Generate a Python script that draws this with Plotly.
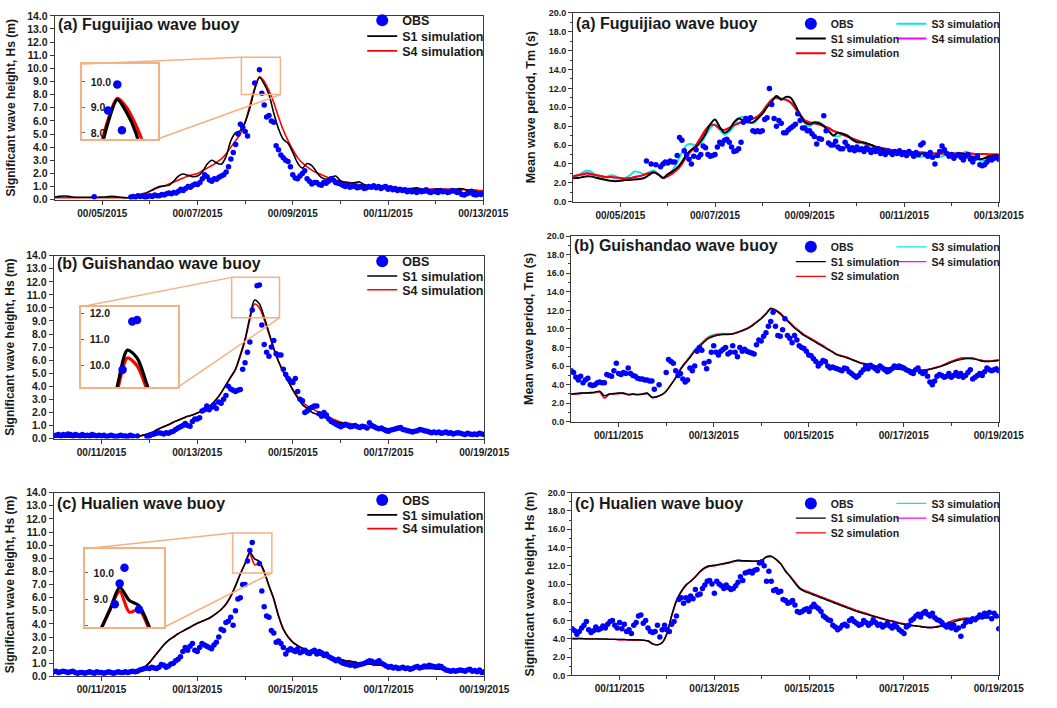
import numpy as np
import plotly.graph_objects as go

W, H = 1057, 708
FONT = "Arial, Liberation Sans, sans-serif"
AX = "#3a3a3a"
TXT = "#1a1a1a"
C_OBS = "#0000ff"
C_S1 = "#000000"
C_S2 = "#ff0000"
C_S3 = "#00e8f0"
C_S4 = "#ff00ff"
C_BOX = "#f4b183"

# ---------------- tick labels ----------------
TICKVALS_A = [5, 7, 9, 11, 13]
TICKTEXT_A = ["00/05/2015", "00/07/2015", "00/09/2015", "00/11/2015", "00/13/2015"]
MINOR_A = [6, 8, 10, 12]
TICKVALS_B = [11, 13, 15, 17, 19]
TICKTEXT_B = ["00/11/2015", "00/13/2015", "00/15/2015", "00/17/2015", "00/19/2015"]
MINOR_B = [12, 14, 16, 18]

SIM_STEP = 0.1     # simulation series sampling (day units)
OBS_STEP = 0.05    # observation sampling (day units)

# ================= (a) Fuguijiao, Hs =================
HS_A_OBS_EARLY_T = [4.83]
HS_A_OBS_EARLY = [0.22]
HS_A_OBS_START = 5.6
HS_A_OBS = [
    0.2, 0.25, 0.2, 0.3, 0.25, 0.3, 0.2, 0.25,
    0.3, 0.25, 0.35, 0.3, 0.3, 0.4, 0.35, 0.45, 0.5, 0.45,
    0.55, 0.5, 0.65, 0.8, 0.7, 0.85, 1.0, 0.95, 1.1, 1.2,
    1.15, 1.3, 1.6, 1.9, 1.75, 1.5, 1.4, 1.6, 1.55, 1.7,
    1.8, 1.9, 2.1, 2.5, 3.1, 3.6, 4.2, 5.0, 5.75, 5.5,
    5.2, 4.85, None, None, 8.88, None, 9.9, 8.1, 7.2, 6.3,
    6.4, 6.0, 5.9, 4.1, 3.8, 3.4, 3.2, 3.0, 2.9, 2.5,
    1.9, 1.65, 1.6, 1.8, 2.0, 2.2, 1.6, 1.4, 1.2, 1.3,
    1.3, 1.15, 1.1, 1.3, 1.25, 1.4, 1.6, 1.5, 1.3, 1.25,
    1.2, 1.1, 1.0, 1.1, 0.95, 1.0, 1.05, 0.9, 0.95, 1.0,
    0.85, 0.9, 1.0, 0.95, 1.05, 0.9, 1.0, 0.85, 0.95, 1.0,
    0.8, 0.9, 0.75, 0.85, 0.7, 0.8, 0.7, 0.75, 0.6, 0.7,
    0.6, 0.65, 0.55, 0.7, 0.6, 0.65, 0.75, 0.6, 0.55, 0.65,
    0.6, 0.55, 0.7, 0.6, 0.65, 0.55, 0.6, 0.7, 0.65, 0.55,
    0.6, 0.4, 0.35, 0.45, 0.5, 0.65, 0.4, 0.35, 0.45, 0.4,
    0.5]
HS_A_SIM_START = 4.0
HS_A_S1 = [
    0.2, 0.25, 0.28, 0.25, 0.2, 0.18, 0.18, 0.18, 0.18, 0.18,
    0.2, 0.22, 0.25, 0.22, 0.18, 0.15, 0.15, 0.2, 0.3, 0.45,
    0.65, 0.85, 1.0, 1.05, 1.1, 1.4, 1.8, 1.95, 1.85, 1.75,
    1.8, 2.1, 2.7, 3.0, 2.8, 2.7, 3.3, 4.5, 5.1, 5.25,
    5.9, 7.0, 8.4, 9.3, 8.8, 8.0, 6.6, 5.4, 4.6, 4.3,
    3.6, 2.8, 2.4, 2.75, 2.6, 2.1, 1.7, 1.55, 1.7, 1.8,
    1.45, 1.3, 1.25, 1.3, 1.35, 1.15, 1.05, 1.0, 1.0, 1.05,
    1.0, 0.95, 0.85, 0.8, 0.75, 0.85, 0.9, 0.8, 0.75, 0.7,
    0.8, 0.8, 0.7, 0.7, 0.75, 0.85, 0.8, 0.7, 0.65, 0.6,
    0.6]
HS_A_S4 = [
    0.15, 0.15, 0.15, 0.15, 0.15, 0.15, 0.15, 0.15, 0.15, 0.15,
    0.15, 0.15, 0.15, 0.15, 0.15, 0.15, 0.2, 0.3, 0.4, 0.5,
    0.65, 0.8, 0.95, 1.05, 1.2, 1.35, 1.5, 1.65, 1.8, 1.9,
    2.0, 2.2, 2.4, 2.6, 2.85, 3.1, 3.5, 4.0, 4.5, 5.0,
    5.9, 7.2, 8.5, 9.35, 9.0, 8.3, 7.4, 6.3, 5.3, 4.5,
    3.8, 3.2, 2.8, 2.5, 2.25, 2.05, 1.9, 1.75, 1.6, 1.5,
    1.4, 1.35, 1.3, 1.2, 1.15, 1.1, 1.05, 1.0, 1.0, 0.95,
    0.95, 0.9, 0.9, 0.85, 0.85, 0.85, 0.8, 0.8, 0.8, 0.8,
    0.8, 0.8, 0.8, 0.8, 0.8, 0.8, 0.75, 0.75, 0.75, 0.7,
    0.7]

# ================= (b) Guishandao, Hs =================
HS_B_OBS_START = 10.0
HS_B_OBS = [
    0.2, 0.25, 0.3, 0.2, 0.3, 0.25, 0.35, 0.3, 0.2, 0.3,
    0.25, 0.2, 0.3, 0.2, 0.25, 0.2, 0.3, 0.25, 0.2, 0.25,
    0.2, 0.25, 0.15, 0.2, 0.25, 0.2, 0.15, 0.2, 0.25, 0.2,
    0.2, 0.15, 0.25, 0.2, None, 0.2, None, None, None, 0.15,
    0.2, 0.3, 0.35, 0.4, 0.45, 0.4, 0.35, 0.45, 0.4, 0.5,
    0.55, 0.7, 0.8, 0.9, 1.0, 1.15, 1.0, 0.95, 1.3, 1.5,
    1.5, 1.6, 2.1, 2.2, 2.5, 2.2, 2.4, 2.6, 2.3, 2.8,
    2.7, 3.0, 3.3, 4.0, 3.8, 3.7, 3.6, 3.7, 3.75, 5.3,
    5.8, 6.6, 7.4, 9.85, None, 11.7, 11.75, 8.7, 7.2, 6.6,
    6.3, 7.0, 7.5, 6.5, 6.4, 6.4, 5.3, 4.9, 4.6, 4.4,
    4.3, 4.6, 3.6, 3.0, 2.9, 2.0, 2.1, 2.3, 2.4, 2.5,
    2.5, 1.9, 1.7, 2.0, 1.8, 1.5, 1.3, 1.2, 1.1, 1.0,
    0.9, 1.0, 1.1, 1.0, 0.9, 0.95, 1.0, 0.9, 0.85, 0.95,
    0.9, 0.8, 1.2, 1.0, 0.9, 0.8, 0.75, 0.8, 0.7, 0.6,
    0.55, 0.65, 0.7, 0.75, 0.8, 0.85, 0.7, 0.65, 0.6, 0.55,
    0.5, 0.55, 0.6, 0.7, 0.65, 0.6, 0.55, 0.5, 0.45, 0.5,
    0.45, 0.5, 0.4, 0.45, 0.5, 0.4, 0.45, 0.35, 0.4, 0.45,
    0.4, 0.35, 0.3, 0.4, 0.35, 0.3, 0.35, 0.3, 0.4, 0.35,
    0.3]
HS_B_SIM_START = 10.0
HS_B_S1 = [
    0.12, 0.12, 0.12, 0.12, 0.12, 0.12, 0.12, 0.12, 0.12, 0.12,
    0.12, 0.12, 0.12, 0.12, 0.12, 0.12, 0.12, 0.15, 0.2, 0.28,
    0.4, 0.55, 0.75, 0.9, 1.05, 1.25, 1.4, 1.55, 1.7, 1.8,
    1.95, 2.1, 2.3, 2.6, 3.0, 3.5, 4.1, 4.7, 5.3, 6.4,
    7.6, 9.3, 10.6, 10.3, 9.3, 8.1, 6.9, 5.9, 5.1, 4.4,
    3.7, 3.1, 2.6, 2.3, 2.0, 1.85, 1.7, 1.55, 1.4, 1.3,
    1.2, 1.1, 1.05, 1.0, 0.95, 0.9, 0.85, 0.85, 0.8, 0.8,
    0.75, 0.72, 0.7, 0.7, 0.68, 0.65, 0.65, 0.62, 0.6, 0.58,
    0.55, 0.52, 0.5, 0.48, 0.45, 0.43, 0.42, 0.4, 0.38, 0.37,
    0.35]
HS_B_S4 = [
    0.12, 0.12, 0.12, 0.12, 0.12, 0.12, 0.12, 0.12, 0.12, 0.12,
    0.12, 0.12, 0.12, 0.12, 0.12, 0.12, 0.12, 0.15, 0.2, 0.28,
    0.4, 0.55, 0.75, 0.9, 1.05, 1.25, 1.4, 1.55, 1.7, 1.8,
    1.95, 2.1, 2.3, 2.6, 3.0, 3.5, 4.1, 4.7, 5.3, 6.3,
    7.5, 9.1, 10.3, 10.0, 9.1, 8.0, 6.9, 5.9, 5.1, 4.4,
    3.75, 3.2, 2.75, 2.5, 2.3, 2.1, 1.95, 1.75, 1.55, 1.4,
    1.25, 1.2, 1.15, 1.05, 0.95, 0.9, 0.85, 0.85, 0.8, 0.8,
    0.75, 0.72, 0.7, 0.7, 0.68, 0.65, 0.65, 0.62, 0.6, 0.58,
    0.55, 0.52, 0.5, 0.48, 0.45, 0.43, 0.42, 0.4, 0.38, 0.37,
    0.35]

# ================= (c) Hualien, Hs =================
HS_C_OBS_START = 10.0
HS_C_OBS = [
    0.35, 0.4, 0.3, 0.35, 0.4, 0.35, 0.3, 0.35, 0.4, 0.3,
    0.25, 0.3, 0.3, 0.25, 0.3, 0.35, 0.3, 0.25, 0.35, 0.3,
    0.3, 0.25, 0.3, 0.35, 0.3, 0.25, 0.3, 0.35, 0.3, 0.3,
    0.35, 0.3, 0.35, 0.4, 0.35, 0.4, 0.5, 0.55, 0.6, 0.65,
    0.6, 0.7, 0.65, 0.6, 0.7, 0.9, 0.85, 0.7, 0.8, 0.95,
    1.0, 1.2, 1.3, 1.5, 1.9, 2.2, 2.0, 2.3, 2.5, 2.0,
    1.9, 2.2, 2.5, 2.4, 2.3, 2.2, 2.1, 2.4, 2.6, 3.0,
    3.6, 3.5, 4.1, 4.2, 4.5, 3.9, 5.0, 5.9, 6.0, 7.0,
    7.0, 8.8, 9.6, 10.2, None, None, 8.6, 6.5, 5.3, 4.6,
    4.5, 3.5, 3.3, 2.6, 2.7, 2.5, 2.2, 1.7, 2.0, 2.1,
    2.0, 1.9, 2.1, 1.8, 1.9, 2.0, 1.8, 1.75, 1.9, 2.0,
    1.7, 1.9, 1.8, 1.6, 1.7, 1.5, 1.4, 1.3, 1.2, 1.3,
    1.1, 1.0, 0.95, 0.9, 0.85, 0.9, 0.8, 0.85, 0.9, 0.95,
    1.0, 1.1, 1.2, 1.15, 1.0, 1.1, 1.2, 1.0, 0.9, 0.8,
    0.7, 0.75, 0.65, 0.7, 0.6, 0.65, 0.7, 0.6, 0.65, 0.55,
    0.6, 0.7, 0.75, 0.65, 0.7, 0.8, 0.75, 0.85, 0.8, 0.75,
    0.7, 0.8, 0.75, 0.6, 0.5, 0.45, 0.4, 0.45, 0.4, 0.45,
    0.5, 0.45, 0.4, 0.5, 0.55, 0.4, 0.45, 0.35, 0.5, 0.3,
    0.35]
HS_C_SIM_START = 10.0
HS_C_S1 = [
    0.35, 0.35, 0.35, 0.35, 0.35, 0.35, 0.35, 0.35, 0.35, 0.35,
    0.35, 0.35, 0.33, 0.33, 0.33, 0.33, 0.33, 0.35, 0.5, 0.7,
    1.05, 1.5, 1.95, 2.4, 2.75, 3.0, 3.25, 3.45, 3.65, 3.85,
    4.05, 4.2, 4.35, 4.55, 4.8, 5.1, 5.5, 6.1, 6.9, 7.8,
    8.6, 9.45, 8.95, 8.75, 8.0, 6.9, 5.9, 4.6, 3.6, 3.0,
    2.6, 2.35, 2.15, 2.0, 1.85, 1.75, 1.6, 1.5, 1.4, 1.35,
    1.3, 1.2, 1.15, 1.1, 1.0, 0.95, 0.95, 0.9, 0.85, 0.85,
    0.8, 0.78, 0.75, 0.72, 0.7, 0.68, 0.65, 0.62, 0.6, 0.6,
    0.58, 0.55, 0.52, 0.5, 0.48, 0.45, 0.43, 0.4, 0.38, 0.36,
    0.35]
HS_C_S4 = [
    0.35, 0.35, 0.35, 0.35, 0.35, 0.35, 0.35, 0.35, 0.35, 0.35,
    0.35, 0.35, 0.33, 0.33, 0.33, 0.33, 0.33, 0.35, 0.5, 0.7,
    1.05, 1.5, 1.95, 2.4, 2.75, 3.0, 3.25, 3.45, 3.65, 3.85,
    4.05, 4.2, 4.35, 4.55, 4.8, 5.1, 5.5, 6.1, 6.9, 7.8,
    8.6, 9.3, 8.5, 8.6, 7.9, 6.9, 5.9, 4.6, 3.6, 3.0,
    2.6, 2.35, 2.15, 2.0, 1.85, 1.75, 1.6, 1.5, 1.4, 1.35,
    1.3, 1.2, 1.15, 1.1, 1.0, 0.95, 0.95, 0.9, 0.85, 0.85,
    0.8, 0.78, 0.75, 0.72, 0.7, 0.68, 0.65, 0.62, 0.6, 0.6,
    0.58, 0.55, 0.52, 0.5, 0.48, 0.45, 0.43, 0.4, 0.38, 0.36,
    0.35]

# ================= (a) Fuguijiao, Tm =================
TM_A_OBS_START = 5.55
TM_A_OBS = [
    4.3, None, 4.0, None, 3.9, None, 3.7, 4.0, 4.2,
    4.1, 4.3, 4.2, 4.2, 4.9, 6.8, 6.5, 5.4, 5.0, 4.5,
    4.0, 4.8, 5.5, 4.7, 5.0, 5.9, 5.7, 5.0, 4.8, 4.9,
    5.0, 5.8, 6.3, 6.1, 6.5, 6.6, 6.3, 5.8, 5.3, 5.4,
    5.6, 6.3, 8.4, 8.8, 8.6, 8.9, 7.5, 7.4, 7.5, 7.4,
    7.5, 8.7, 8.9, 12.0, 10.3, 8.8, 8.0, 8.6, 8.3, 7.3,
    7.3, 7.6, 7.8, 8.0, 8.2, 9.3, 8.6, 7.8, 7.8, 7.5,
    7.5, 7.2, 6.9, 6.1, 6.7, 6.6, 9.1, 7.5, 6.2, 6.0,
    6.0, 6.4, 5.8, 5.6, 5.6, 6.3, 5.9, 5.5, 5.7, 5.4,
    5.8, 5.5, 5.6, 5.3, 5.7, 5.5, 5.2, 5.5, 5.3, 5.6,
    5.1, 5.3, 5.0, 5.4, 5.2, 5.0, 5.3, 5.1, 5.4, 5.0,
    5.2, 4.9, 5.3, 5.1, 4.8, 5.2, 5.0, 6.0, 6.2, 5.0,
    4.8, 5.2, 4.7, 4.0, 4.9, 5.3, 5.9, 5.5, 5.1, 4.8,
    5.0, 4.6, 4.9, 5.0, 4.7, 4.4, 4.8, 5.0, 4.5, 4.2,
    4.6, 4.8, 3.9, 3.8, 3.9, 4.2, 4.5, 4.4, 4.6, 4.7,
    4.5]
TM_A_SIM_START = 4.0
TM_A_S1 = [
    2.5, 2.5, 2.6, 2.7, 2.65, 2.5, 2.4, 2.3, 2.2, 2.15,
    2.2, 2.3, 2.3, 2.35, 2.4, 2.5, 2.8, 3.1, 2.9, 2.5,
    2.9, 3.2, 3.6, 4.2, 5.0, 5.5, 5.8, 6.4, 7.2, 8.2,
    8.7, 7.9, 7.3, 7.6, 8.4, 8.8, 8.6, 8.4, 8.4, 8.8,
    9.3, 10.0, 10.6, 11.2, 10.8, 11.1, 11.0, 10.2, 9.2, 8.4,
    8.2, 8.4, 8.3, 8.0, 7.5, 7.0, 7.3, 7.2, 7.0, 6.6,
    6.3, 6.3, 6.2, 6.0, 5.8, 5.6, 5.5, 5.4, 5.3, 5.3,
    5.3, 5.1, 4.9, 5.0, 5.1, 4.9, 4.7, 4.9, 5.3, 5.2,
    4.9, 5.0, 5.1, 5.0, 4.8, 4.6, 4.5, 4.6, 4.8, 4.9,
    4.9]
TM_A_S2 = [
    2.7, 2.8, 2.9, 3.0, 2.9, 2.8, 2.7, 2.6, 2.6, 2.55,
    2.5, 2.45, 2.5, 2.6, 2.7, 2.85, 3.0, 3.1, 2.9, 2.5,
    2.7, 3.0, 3.4, 4.0, 4.8, 5.4, 6.0, 6.8, 7.6, 8.1,
    8.1, 7.7, 7.6, 7.8, 8.1, 8.3, 8.5, 8.6, 8.8, 9.0,
    9.5, 10.2, 10.8, 11.0, 10.9, 10.8, 10.5, 9.9, 9.2, 8.6,
    8.4, 8.3, 8.2, 8.0, 7.8, 7.5, 7.3, 7.1, 6.9, 6.7,
    6.5, 6.3, 6.1, 6.0, 5.8, 5.7, 5.6, 5.5, 5.4, 5.3,
    5.3, 5.25, 5.2, 5.2, 5.2, 5.15, 5.1, 5.1, 5.1, 5.1,
    5.1, 5.1, 5.1, 5.1, 5.1, 5.05, 5.05, 5.05, 5.0, 5.0,
    5.0]
TM_A_S3 = [
    2.4, 2.7, 3.1, 3.3, 3.1, 2.7, 2.5, 2.6, 2.8, 2.7,
    2.4, 2.5, 2.8, 3.2, 3.1, 2.9, 3.1, 3.3, 2.9, 2.5,
    2.8, 3.3, 4.2, 5.2, 6.0, 6.1, 5.9, 6.2, 7.0, 7.8,
    8.2, 7.6, 7.1, 7.4, 8.0, 8.8, 9.0, 8.6, 8.3, 8.7,
    9.5, 10.2, 10.8, 11.2, 10.9, 10.8, 10.5, 9.8, 9.0, 8.3,
    8.0, 8.3, 8.4, 8.1, 7.6, 7.0, 6.9, 7.1, 7.0, 6.5,
    6.3, 6.2, 6.0, 5.7, 5.6, 5.5, 5.3, 5.2, 5.1, 5.2,
    5.3, 5.1, 4.8, 4.7, 4.8, 5.0, 4.9, 4.7, 4.8, 5.0,
    4.9, 4.8, 5.0, 5.3, 5.0, 4.6, 4.4, 4.3, 4.6, 4.8,
    4.7]
TM_A_S4 = list(TM_A_S2)   # magenta curve lies under the S2 curve in the picture

# ================= (b) Guishandao, Tm =================
TM_B_OBS_START = 10.0
TM_B_OBS = [
    5.5, 5.3, 4.8, 4.5, 4.9, 4.2, 4.5, 4.7, 4.0, 3.9,
    4.0, 4.2, 4.3, 4.2, 4.2, 5.1, 5.0, 4.9, 5.5, 6.3,
    5.2, 5.1, 5.3, 5.2, 5.8, 5.2, 5.0, 4.9, 4.7, 4.6,
    4.6, 4.5, 4.5, 4.4, 4.4, 3.5, None, 4.0, None, None,
    5.3, 6.7, 6.5, 6.3, 5.5, 5.0, 5.2, 4.6, 4.3, 4.5,
    5.8, 5.5, 6.0, 7.6, 8.0, 7.7, 6.3, 5.7, 6.5, 7.5,
    8.2, 7.5, 7.2, 7.6, 7.8, 8.0, 7.3, 7.5, 8.2, 7.5,
    7.0, 8.0, 7.6, 7.8, 7.6, 7.5, 7.4, 7.3, 8.3, 8.8,
    8.7, 9.2, 9.6, 10.3, 10.8, 11.8, 10.3, 9.3, 9.2, 9.9,
    11.1, 9.3, 9.0, 8.5, 9.3, 8.8, 8.2, 8.0, 7.9, 7.6,
    7.2, 7.1, 6.8, 6.5, 6.0, 6.3, 6.6, 6.5, 6.0, 5.8,
    5.9, 5.8, 5.7, 5.6, 5.5, 5.8, 5.7, 5.4, 5.2, 5.0,
    4.8, 5.0, 5.3, 5.6, 6.0, 5.7, 6.1, 5.9, 5.7, 5.5,
    6.0, 5.8, 5.6, 5.4, 5.5, 5.7, 6.0, 5.9, 6.0, 5.9,
    5.8, 5.6, 5.5, 5.3, 5.2, 5.6, 5.8, 5.4, 5.2, 5.4,
    4.9, 4.3, 4.0, 4.4, 4.9, 5.1, 5.0, 4.8, 4.9, 5.2,
    4.8, 5.0, 5.3, 4.9, 5.2, 4.8, 5.0, 5.3, 5.6, 4.6,
    4.8, 5.0, 5.2, 5.0, 5.4, 5.8, 5.6, 5.5, 5.6, 5.7,
    5.5]
TM_B_SIM_START = 10.0
TM_B_S1 = [
    3.0, 3.05, 3.1, 3.1, 3.15, 3.2, 3.3, 2.8, 3.0, 3.05,
    3.1, 3.1, 2.95, 3.0, 2.95, 3.0, 3.1, 2.65, 2.7, 2.9,
    3.3, 4.0, 4.7, 5.6, 6.3, 6.9, 7.6, 8.1, 8.6, 9.0,
    9.2, 9.35, 9.4, 9.4, 9.45, 9.6, 9.8, 10.0, 10.3, 10.7,
    11.1, 11.6, 12.2, 12.0, 11.6, 11.1, 10.6, 10.1, 9.7, 9.3,
    9.0, 8.7, 8.4, 8.1, 7.8, 7.5, 7.2, 7.05, 6.9, 6.7,
    6.5, 6.3, 6.2, 6.1, 6.0, 5.9, 5.8, 5.75, 5.7, 5.65,
    5.6, 5.55, 5.5, 5.45, 5.5, 5.6, 5.7, 5.85, 6.0, 6.2,
    6.4, 6.6, 6.7, 6.8, 6.8, 6.75, 6.6, 6.5, 6.5, 6.55,
    6.6]
TM_B_S2 = [
    2.95, 3.0, 3.05, 3.1, 3.1, 3.15, 3.2, 2.55, 2.95, 3.0,
    3.05, 3.05, 2.9, 2.95, 2.9, 2.95, 3.05, 2.6, 2.7, 2.9,
    3.3, 4.0, 4.8, 5.7, 6.4, 7.0, 7.7, 8.2, 8.7, 9.1,
    9.3, 9.4, 9.45, 9.45, 9.5, 9.65, 9.85, 10.05, 10.35, 10.75,
    11.15, 11.65, 12.2, 12.05, 11.7, 11.2, 10.7, 10.2, 9.8, 9.4,
    9.1, 8.8, 8.5, 8.2, 7.85, 7.55, 7.25, 7.1, 6.95, 6.75,
    6.55, 6.35, 6.25, 6.15, 6.05, 5.95, 5.85, 5.8, 5.75, 5.7,
    5.65, 5.6, 5.55, 5.5, 5.55, 5.65, 5.75, 5.9, 6.05, 6.3,
    6.5, 6.7, 6.85, 6.9, 6.9, 6.8, 6.65, 6.55, 6.55, 6.6,
    6.65]
TM_B_S3 = [
    3.0, 3.05, 3.1, 3.1, 3.1, 3.15, 3.25, 2.85, 3.0, 3.05,
    3.05, 3.05, 2.95, 3.0, 2.9, 2.95, 3.05, 2.7, 2.7, 2.9,
    3.3, 4.0, 4.8, 5.7, 6.4, 7.1, 7.8, 8.3, 8.8, 9.2,
    9.4, 9.5, 9.5, 9.45, 9.5, 9.6, 9.8, 10.0, 10.3, 10.7,
    11.1, 11.6, 12.2, 12.0, 11.6, 11.1, 10.6, 10.1, 9.7, 9.3,
    9.0, 8.7, 8.4, 8.1, 7.8, 7.5, 7.2, 7.05, 6.9, 6.7,
    6.5, 6.3, 6.2, 6.1, 6.0, 5.9, 5.8, 5.75, 5.7, 5.65,
    5.6, 5.55, 5.5, 5.45, 5.5, 5.6, 5.7, 5.85, 6.0, 6.2,
    6.4, 6.6, 6.75, 6.8, 6.8, 6.75, 6.6, 6.5, 6.5, 6.55,
    6.6]
TM_B_S4 = list(TM_B_S2)   # hidden beneath S2 in the picture

# ================= (c) Hualien, right panel =================
TM_C_OBS_START = 10.0
TM_C_OBS = [
    5.1, 4.9, 4.5, 4.8, 5.2, 5.5, 5.9, 5.0, 4.7, 4.9,
    5.3, 5.0, 5.1, 5.4, 5.2, 5.6, 5.9, 6.0, 5.5, 5.2,
    5.8, 5.1, 5.6, 4.8, 5.0, 4.6, 5.5, 5.8, 6.5, 6.6,
    5.7, 6.0, 5.2, 4.8, 4.7, 4.8, 5.5, 4.2, 5.0, 5.5,
    5.0, 4.8, 5.6, 5.9, 6.5, 8.3, 8.5, 7.9, 8.5, 8.2,
    8.7, 8.4, 9.4, 8.8, 8.9, 9.5, 9.9, 10.3, 10.4, 10.0,
    9.0, 10.3, 10.0, 9.8, 9.5, 9.9, 9.6, 9.4, 9.5, 9.8,
    10.2, 10.8, 10.4, 11.2, 11.3, 11.4, 11.2, 11.5, 11.6, 12.3,
    12.4, 12.0, 10.3, 11.4, 10.3, 9.3, 9.4, 9.1, 9.2, 8.3,
    8.2, 7.9, 8.0, 8.2, 7.7, 7.0, 6.9, 7.0, 7.2, 7.3,
    7.0, 7.5, 7.8, 7.5, 7.3, 7.0, 6.5, 6.3, 6.1, 6.0,
    5.5, 5.3, 5.0, 5.2, 5.5, 5.6, 5.4, 6.0, 6.2, 5.9,
    5.7, 5.5, 5.6, 6.0, 5.8, 5.5, 5.7, 6.1, 5.8, 5.5,
    5.6, 5.3, 5.5, 5.7, 5.4, 5.2, 5.6, 5.3, 5.0, 4.8,
    4.6, 5.3, 5.5, 6.0, 6.2, 6.5, 6.7, 6.4, 6.8, 7.0,
    6.7, 6.5, 6.8, 6.3, 6.1, 6.0, 5.8, 5.5, 5.3, 5.6,
    5.2, 5.5, 5.0, 5.2, 4.3, 5.4, 5.8, 6.0, 5.9, 6.2,
    6.1, 6.3, 6.6, 6.4, 6.8, 6.5, 6.9, 6.2, 6.8, 6.5,
    5.1]
TM_C_SIM_START = 10.0
TM_C_S1 = [
    4.05, 4.05, 4.05, 4.0, 4.0, 4.0, 4.0, 4.0, 3.95, 3.95,
    3.95, 3.95, 3.9, 3.9, 3.9, 3.85, 3.8, 3.45, 3.35, 3.6,
    4.6, 6.6, 8.2, 9.2, 9.9, 10.3, 10.8, 11.4, 11.8, 12.0,
    12.05, 12.15, 12.25, 12.35, 12.5, 12.6, 12.55, 12.55, 12.5, 12.5,
    12.6, 13.0, 13.05, 12.7, 12.2, 11.4, 10.8, 10.1, 9.5, 9.2,
    9.0, 8.8, 8.6, 8.4, 8.2, 8.0, 7.8, 7.6, 7.4, 7.2,
    7.0, 6.85, 6.7, 6.55, 6.4, 6.25, 6.1, 6.0, 5.85, 5.7,
    5.6, 5.5, 5.45, 5.4, 5.3, 5.25, 5.25, 5.3, 5.4, 5.55,
    5.75, 5.95, 6.1, 6.15, 6.2, 6.2, 6.25, 6.3, 6.3, 6.35,
    6.4]
TM_C_S2 = [
    4.0, 4.0, 4.0, 4.0, 4.0, 4.0, 3.95, 3.95, 3.95, 3.95,
    3.9, 3.9, 3.9, 3.85, 3.85, 3.85, 3.75, 3.45, 3.35, 3.6,
    4.6, 6.5, 8.1, 9.1, 9.85, 10.3, 10.8, 11.35, 11.75, 11.95,
    12.0, 12.1, 12.2, 12.3, 12.45, 12.55, 12.5, 12.5, 12.5, 12.5,
    12.6, 12.95, 13.0, 12.7, 12.2, 11.45, 10.85, 10.2, 9.6, 9.3,
    9.1, 8.9, 8.7, 8.5, 8.3, 8.1, 7.9, 7.7, 7.5, 7.3,
    7.1, 6.95, 6.8, 6.6, 6.45, 6.3, 6.15, 6.0, 5.9, 5.75,
    5.65, 5.55, 5.45, 5.4, 5.3, 5.25, 5.25, 5.35, 5.5, 5.7,
    5.95, 6.1, 6.2, 6.25, 6.25, 6.3, 6.3, 6.35, 6.35, 6.4,
    6.45]
TM_C_S3 = list(TM_C_S1)   # cyan curve indistinguishable from S1 in the picture
TM_C_S4 = list(TM_C_S2)   # magenta curve hidden beneath S2


def times(start, step, n):
    return np.round(start + step * np.arange(n), 3)


# ---------------- panel layout (pixel boxes) ----------------
PANELS = [
    dict(n=1, px=(56, 495), py=(10, 197), xr=(4, 13), yr=(0, 14), side="L",
         tv=TICKVALS_A, tt=TICKTEXT_A, mv=MINOR_A, title="(a) Fuguijiao wave buoy", tpy=19,
         ytitle="Significant wave height, Hs (m)", rows=(15, 31, 46)),
    dict(n=2, px=(55, 496), py=(254, 440), xr=(10, 19), yr=(0, 14), side="L",
         tv=TICKVALS_B, tt=TICKTEXT_B, mv=MINOR_B, title="(b) Guishandao wave buoy", tpy=262,
         ytitle="Significant wave height, Hs (m)", rows=(260, 275, 289)),
    dict(n=3, px=(55, 496), py=(495, 682), xr=(10, 19), yr=(0, 14), side="L",
         tv=TICKVALS_B, tt=TICKTEXT_B, mv=MINOR_B, title="(c) Hualien wave buoy", tpy=506,
         ytitle="Significant wave height, Hs (m)", rows=(503, 518, 532)),
    dict(n=4, px=(587, 1023), py=(7, 199), xr=(4, 13), yr=(0, 20), side="R",
         tv=TICKVALS_A, tt=TICKTEXT_A, mv=MINOR_A, title="(a) Fuguijiao wave buoy", tpy=18,
         ytitle="Mean wave period, Tm (s)", rows=(18, 33, 48), lw=2.0),
    dict(n=5, px=(585, 1023), py=(234, 423), xr=(10, 19), yr=(0, 20), side="R",
         tv=TICKVALS_B, tt=TICKTEXT_B, mv=MINOR_B, title="(b) Guishandao wave buoy", tpy=244,
         ytitle="Mean wave period, Tm (s)", rows=(245, 260, 275), lw=1.4),
    dict(n=6, px=(586, 1023), py=(495, 681), xr=(10, 19), yr=(0, 20), side="R",
         tv=TICKVALS_B, tt=TICKTEXT_B, mv=MINOR_B, title="(c) Hualien wave buoy", tpy=506,
         ytitle="Significant wave height, Hs (m)", rows=(506, 521, 536), lw=1.4),
]
PBYN = {p["n"]: p for p in PANELS}

LEFT_DATA = {
    1: dict(obs_t=np.concatenate([HS_A_OBS_EARLY_T, times(HS_A_OBS_START, OBS_STEP, len(HS_A_OBS))]),
            obs=HS_A_OBS_EARLY + HS_A_OBS, s1=HS_A_S1, s4=HS_A_S4, start=HS_A_SIM_START),
    2: dict(obs_t=times(HS_B_OBS_START, OBS_STEP, len(HS_B_OBS)), obs=HS_B_OBS,
            s1=HS_B_S1, s4=HS_B_S4, start=HS_B_SIM_START),
    3: dict(obs_t=times(HS_C_OBS_START, OBS_STEP, len(HS_C_OBS)), obs=HS_C_OBS,
            s1=HS_C_S1, s4=HS_C_S4, start=HS_C_SIM_START),
}
RIGHT_DATA = {
    4: dict(obs_t=times(TM_A_OBS_START, OBS_STEP, len(TM_A_OBS)), obs=TM_A_OBS,
            s1=TM_A_S1, s2=TM_A_S2, s3=TM_A_S3, s4=TM_A_S4, start=TM_A_SIM_START),
    5: dict(obs_t=times(TM_B_OBS_START, OBS_STEP, len(TM_B_OBS)), obs=TM_B_OBS,
            s1=TM_B_S1, s2=TM_B_S2, s3=TM_B_S3, s4=TM_B_S4, start=TM_B_SIM_START),
    6: dict(obs_t=times(TM_C_OBS_START, OBS_STEP, len(TM_C_OBS)), obs=TM_C_OBS,
            s1=TM_C_S1, s2=TM_C_S2, s3=TM_C_S3, s4=TM_C_S4, start=TM_C_SIM_START),
}

# inset boxes (pixel) and the zoom windows they show
INSETS = [
    dict(n=7, parent=1, px=(84, 162), py=(59, 135), yr=(7.77, 10.7), wx=(7.92, 8.74), wy=(8.0, 10.85)),
    dict(n=8, parent=2, px=(83, 182), py=(306, 388), yr=(9.17, 12.26), wx=(13.72, 14.72), wy=(9.24, 12.34)),
    dict(n=9, parent=3, px=(87, 168), py=(552, 632), yr=(7.92, 10.93), wx=(13.74, 14.56), wy=(7.88, 10.93)),
]


def ax_names(n):
    return ("xaxis" if n == 1 else f"xaxis{n}", "yaxis" if n == 1 else f"yaxis{n}",
            "x" if n == 1 else f"x{n}", "y" if n == 1 else f"y{n}")


fig = go.Figure()
layout = dict(width=W, height=H, margin=dict(l=0, r=0, t=0, b=0),
              paper_bgcolor="white", plot_bgcolor="white", showlegend=True)
legends = {}


def make_legend(xpx, ypx, size, constant=False):
    k = len(legends) + 1
    name = "legend" if k == 1 else f"legend{k}"
    legends[name] = dict(x=xpx / W, y=1 - ypx / H, xanchor="left", yanchor="middle",
                         bgcolor="rgba(0,0,0,0)", borderwidth=0,
                         font=dict(family=FONT, size=size, color=TXT, weight="bold"),
                         itemsizing="constant" if constant else "trace")
    return name


for p in PANELS:
    xa, ya, xid, yid = ax_names(p["n"])
    left = p["side"] == "L"
    layout[xa] = dict(
        domain=[p["px"][0] / W, p["px"][1] / W], range=list(p["xr"]), anchor=yid,
        tickmode="array", tickvals=p["tv"], ticktext=p["tt"],
        ticks="outside", ticklen=4, tickwidth=1, tickcolor=AX,
        minor=dict(tickmode="array", tickvals=p["mv"], ticks="outside", ticklen=3, tickcolor=AX),
        showline=True, linecolor=AX, linewidth=1, mirror=True, showgrid=False, zeroline=False,
        tickfont=dict(family=FONT, size=10, color=TXT, weight="bold"))
    ycfg = dict(
        domain=[1 - p["py"][1] / H, 1 - p["py"][0] / H], range=list(p["yr"]), anchor=xid,
        tickmode="linear", tick0=0, dtick=1 if left else 2, tickformat=".1f",
        ticks="outside", ticklen=4, tickwidth=1, tickcolor=AX,
        showline=True, linecolor=AX, linewidth=1, mirror=True, showgrid=False, zeroline=False,
        tickfont=dict(family=FONT, size=10.5 if left else 9, color=TXT, weight="bold"),
        title=dict(text=p["ytitle"], standoff=8 if left else 10,
                   font=dict(family=FONT, size=12 if left else 12.5, color=TXT, weight="bold")))
    if not left:
        ycfg["minor"] = dict(dtick=1, ticks="outside", ticklen=2, tickcolor=AX)
    layout[ya] = ycfg

    # panel title
    fig.add_annotation(x=(p["px"][0] + 1) / W, y=1 - p["tpy"] / H, xref="paper", yref="paper",
                       xanchor="left", yanchor="middle", showarrow=False, text=p["title"],
                       font=dict(family=FONT, size=16, color=TXT, weight="bold"))

    if left:
        d = LEFT_DATA[p["n"]]
        st = times(d["start"], SIM_STEP, len(d["s1"]))
        r = p["rows"]
        fig.add_trace(go.Scatter(x=times(d["start"], SIM_STEP, len(d["s4"])), y=d["s4"], mode="lines",
                                 name="S4 simulation", xaxis=xid, yaxis=yid,
                                 line=dict(color=C_S2, width=1.6, shape="spline", smoothing=0.8),
                                 legend=make_legend(371, r[2], 12.5)))
        fig.add_trace(go.Scatter(x=st, y=d["s1"], mode="lines", name="S1 simulation", xaxis=xid, yaxis=yid,
                                 line=dict(color=C_S1, width=1.6, shape="spline", smoothing=0.8),
                                 legend=make_legend(371, r[1], 12.5)))
        fig.add_trace(go.Scatter(x=d["obs_t"], y=d["obs"], mode="markers", name="OBS", xaxis=xid, yaxis=yid,
                                 marker=dict(color=C_OBS, size=5.5), legend=make_legend(371, r[0], 12.5, True)))
    else:
        d = RIGHT_DATA[p["n"]]
        r = p["rows"]
        lw = p["lw"]
        c1x, c2x = 810, 913
        specs = [("s4", "S4 simulation", C_S4, c2x, r[1]), ("s3", "S3 simulation", C_S3, c2x, r[0]),
                 ("s2", "S2 simulation", C_S2, c1x, r[2]), ("s1", "S1 simulation", C_S1, c1x, r[1])]
        for key, nm, col, lx, ly in specs:
            fig.add_trace(go.Scatter(x=times(d["start"], SIM_STEP, len(d[key])), y=d[key], mode="lines",
                                     name=nm, xaxis=xid, yaxis=yid,
                                     line=dict(color=col, width=lw, shape="spline", smoothing=0.8),
                                     legend=make_legend(lx, ly, 10.5)))
        fig.add_trace(go.Scatter(x=d["obs_t"], y=d["obs"], mode="markers", name="OBS", xaxis=xid, yaxis=yid,
                                 marker=dict(color=C_OBS, size=5.5), legend=make_legend(c1x, r[0], 10.5, True)))

# ---------------- insets ----------------
shapes = []
for ins in INSETS:
    p = PBYN[ins["parent"]]
    d = LEFT_DATA[ins["parent"]]
    _, _, pxid, pyid = ax_names(p["n"])
    xa, ya, xid, yid = ax_names(ins["n"])
    layout[xa] = dict(domain=[ins["px"][0] / W, ins["px"][1] / W], range=list(ins["wx"]), anchor=yid,
                      showticklabels=False, ticks="", showline=True, linecolor=C_BOX, linewidth=1.5,
                      mirror=True, showgrid=False, zeroline=False)
    layout[ya] = dict(domain=[1 - ins["py"][1] / H, 1 - ins["py"][0] / H], range=list(ins["yr"]), anchor=xid,
                      tickmode="linear", tick0=0, dtick=1, tickformat=".1f", ticks="inside", ticklen=3,
                      tickcolor="#666", ticklabelposition="inside", ticklabelstandoff=5,
                      showline=True, linecolor=C_BOX,
                      linewidth=1.5, mirror=True, showgrid=False, zeroline=False,
                      tickfont=dict(family=FONT, size=10.5, color=TXT, weight="bold"))
    fig.add_trace(go.Scatter(x=times(d["start"], SIM_STEP, len(d["s4"])), y=d["s4"], mode="lines",
                             xaxis=xid, yaxis=yid, showlegend=False, hoverinfo="skip",
                             line=dict(color=C_S2, width=3.2, shape="spline", smoothing=0.8)))
    fig.add_trace(go.Scatter(x=times(d["start"], SIM_STEP, len(d["s1"])), y=d["s1"], mode="lines",
                             xaxis=xid, yaxis=yid, showlegend=False, hoverinfo="skip",
                             line=dict(color=C_S1, width=3.2, shape="spline", smoothing=0.8)))
    fig.add_trace(go.Scatter(x=d["obs_t"], y=d["obs"], mode="markers", xaxis=xid, yaxis=yid,
                             showlegend=False, hoverinfo="skip", marker=dict(color=C_OBS, size=8.5)))

    # zoom window on main panel
    shapes.append(dict(type="rect", xref=pxid, yref=pyid, x0=ins["wx"][0], x1=ins["wx"][1],
                       y0=ins["wy"][0], y1=ins["wy"][1], line=dict(color=C_BOX, width=1.5), layer="above"))

    def to_paper(x, y, p=p):
        fx = (p["px"][0] + (x - p["xr"][0]) / (p["xr"][1] - p["xr"][0]) * (p["px"][1] - p["px"][0])) / W
        pyv = p["py"][1] - (y - p["yr"][0]) / (p["yr"][1] - p["yr"][0]) * (p["py"][1] - p["py"][0])
        return fx, 1 - pyv / H

    tlx, tly = to_paper(ins["wx"][0], ins["wy"][1])
    brx, bry = to_paper(ins["wx"][1], ins["wy"][0])
    shapes.append(dict(type="line", xref="paper", yref="paper", x0=ins["px"][0] / W, y0=1 - ins["py"][0] / H,
                       x1=tlx, y1=tly, line=dict(color=C_BOX, width=1.5), layer="above"))
    shapes.append(dict(type="line", xref="paper", yref="paper", x0=ins["px"][1] / W, y0=1 - ins["py"][1] / H,
                       x1=brx, y1=bry, line=dict(color=C_BOX, width=1.5), layer="above"))

layout["shapes"] = shapes
layout.update(legends)
fig.update_layout(**layout)
fig.write_html("out.html")
